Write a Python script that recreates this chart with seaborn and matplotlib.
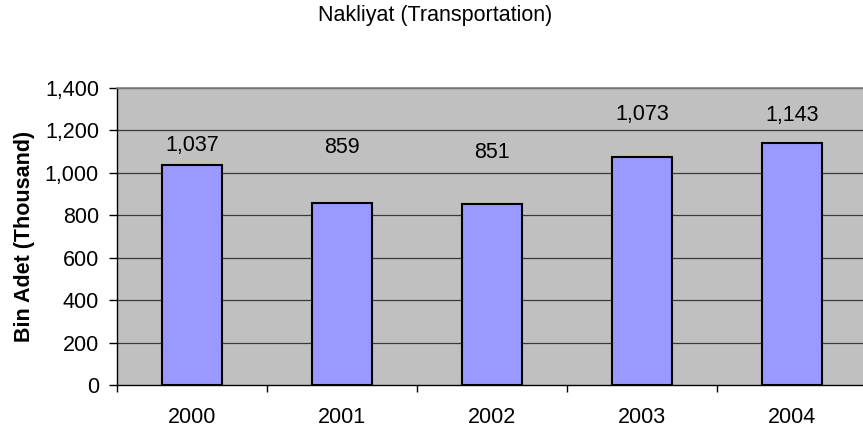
import matplotlib
matplotlib.use("Agg")
import matplotlib.pyplot as plt
import seaborn as sns
import pandas as pd
from matplotlib.ticker import FuncFormatter, FixedLocator

years = ["2000", "2001", "2002", "2003", "2004"]
values = [1037, 859, 851, 1073, 1143]
value_labels = ["1,037", "859", "851", "1,073", "1,143"]
# label offsets above bar tops (pixels), as placed in the reference
label_offsets_px = [20, 55, 52, 43, 27]

df = pd.DataFrame({"year": years, "value": values})

sns.set_theme(style="white")
plt.rcParams["font.family"] = ["Liberation Sans", "DejaVu Sans"]
plt.rcParams["text.color"] = "black"
plt.rcParams["axes.labelcolor"] = "black"
plt.rcParams["xtick.color"] = "black"
plt.rcParams["ytick.color"] = "black"

FS = 15.5
W, H = 863, 432
fig = plt.figure(figsize=(W / 100, H / 100), dpi=100)
ax = fig.add_axes([117 / W, (H - 385) / H, 750 / W, 297 / H])
ax.set_facecolor("#C0C0C0")

sns.barplot(data=df, x="year", y="value", ax=ax, color="#9999FF",
            width=0.4, edgecolor="black", linewidth=1.5, saturation=1,
            zorder=3)

ax.set_ylim(0, 1400)
ax.set_xlim(-0.5, 4.5)
ax.set_yticks(range(0, 1401, 200))
ax.yaxis.set_major_formatter(FuncFormatter(lambda v, p: f"{int(v):,}"))
for y in range(200, 1401, 200):
    ax.axhline(y, color="#3a3a3a", lw=0.9, zorder=1)

ax.set_xticks([i for i in range(len(years))])
ax.set_xticklabels(years)
ax.tick_params(axis="x", which="major", length=0, pad=16, labelsize=FS, labelcolor="black")
ax.xaxis.set_minor_locator(FixedLocator([i + 0.5 for i in range(-1, len(years))]))
ax.tick_params(axis="x", which="minor", length=5, width=1, color="black", direction="out", bottom=True)
ax.tick_params(axis="y", length=6, width=1, color="black", direction="out", left=True,
               labelsize=FS, pad=7, labelcolor="black")

ax.spines["right"].set_visible(False)
ax.spines["top"].set_color("#808080")
ax.spines["top"].set_linewidth(1.2)
ax.spines["left"].set_color("black")
ax.spines["bottom"].set_color("black")
ax.spines["left"].set_linewidth(1)
ax.spines["bottom"].set_linewidth(1)

ax.set_xlabel("")
ax.set_ylabel("Bin Adet (Thousand)", fontsize=FS, fontweight="bold", labelpad=7, color="black")

for i, (v, lab, off) in enumerate(zip(values, value_labels, label_offsets_px)):
    ax.annotate(lab, xy=(i, v), xytext=(0, off * 0.72), textcoords="offset points",
                ha="center", va="center", fontsize=FS, color="black", zorder=5)

fig.text(435 / W, 1 - 15 / H, "Nakliyat (Transportation)",
         ha="center", va="center", fontsize=FS, color="black")

fig.savefig("out.png", dpi=100, facecolor="white")
